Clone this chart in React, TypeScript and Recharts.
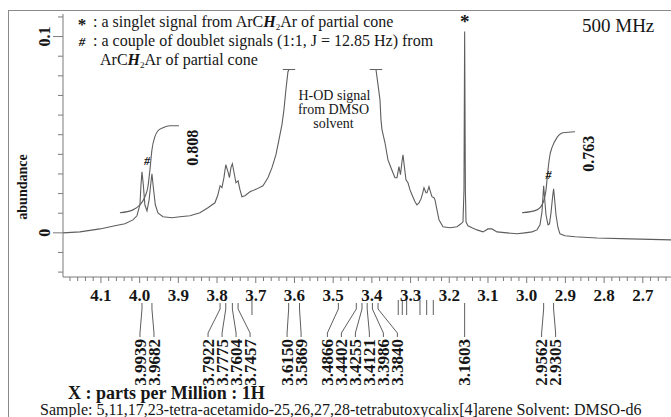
import { LineChart, Line, XAxis, YAxis, ReferenceLine, ReferenceDot } from "recharts";

const FONT = '"Liberation Serif", "Times New Roman", serif';
const INK = "#161616";
const TRACE = "#5e5e5e";
const AXIS = "#7a7a7a";

// 1H spectrum, left of the truncated H-OD signal
const leftPpm = [
  4.198, 4.1543, 4.1026, 4.0638, 4.038, 4.0173, 4.007, 3.9992, 3.9965, 3.9939, 3.9905, 3.9865, 3.981,
  3.9755, 3.9715, 3.9682, 3.9645, 3.9595, 3.9527, 3.9398, 3.9165, 3.8959, 3.87, 3.8442, 3.8235, 3.8054,
  3.7977, 3.7922, 3.7873, 3.7822, 3.7775, 3.7718, 3.768, 3.7641, 3.7604, 3.755, 3.7512, 3.7457, 3.7408,
  3.7357, 3.7279, 3.715, 3.6969, 3.6814, 3.6685, 3.6581, 3.6478, 3.6401, 3.6323, 3.6271, 3.622, 3.6168, 3.6142,
];
const leftAbundance = [
  0, 0.0005, 0.002, 0.0036, 0.0046, 0.0066, 0.0087, 0.0143, 0.0245, 0.0311, 0.0245, 0.0143, 0.0112,
  0.0168, 0.0245, 0.0301, 0.023, 0.0143, 0.0102, 0.0082, 0.0077, 0.0082, 0.0087, 0.0102, 0.0128, 0.0153,
  0.0194, 0.024, 0.023, 0.0281, 0.0347, 0.0312, 0.0281, 0.0332, 0.0352, 0.0296, 0.0255, 0.0265, 0.022,
  0.0184, 0.0189, 0.0209, 0.0224, 0.024, 0.0281, 0.0332, 0.0398, 0.0474, 0.0551, 0.0628, 0.073, 0.0821, 0.0832,
];

// 1H spectrum, right of the truncated H-OD signal
const rightPpm = [
  3.3894, 3.3842, 3.3791, 3.3765, 3.3739, 3.3661, 3.3584, 3.3506, 3.3455, 3.3403, 3.3351, 3.33, 3.3261,
  3.3222, 3.3196, 3.3157, 3.3119, 3.3067, 3.3015, 3.2964, 3.2886, 3.2835, 3.2783, 3.2731, 3.2692, 3.2654,
  3.2602, 3.2576, 3.2524, 3.2486, 3.2447, 3.2395, 3.2369, 3.2318, 3.2266, 3.2163, 3.1982, 3.1801, 3.1698,
  3.1646, 3.162, 3.1603, 3.1584, 3.1568, 3.1517, 3.1413, 3.1284, 3.1129, 3.1, 3.0897, 3.0767, 3.0509,
  3.0251, 3.0044, 2.9863, 2.9734, 2.9656, 2.9605, 2.9579, 2.9562, 2.954, 2.9501, 2.945, 2.9411, 2.9372,
  2.9333, 2.9305, 2.9282, 2.9243, 2.9191, 2.914, 2.901, 2.8752, 2.8183, 2.733, 2.6271, 2.6039,
];
const rightAbundance = [
  0.0832, 0.0755, 0.0679, 0.0577, 0.0526, 0.0459, 0.0372, 0.0332, 0.0306, 0.0281, 0.0281, 0.0337, 0.0296,
  0.0362, 0.0398, 0.0332, 0.027, 0.0255, 0.0219, 0.0194, 0.0158, 0.0143, 0.0153, 0.0173, 0.0199, 0.023,
  0.0204, 0.0204, 0.0235, 0.0209, 0.0184, 0.0179, 0.0168, 0.0117, 0.0066, 0.0031, 0.0026, 0.0031, 0.0046,
  0.0056, 0.0219, 0.1026, 0.0219, 0.0056, 0.0036, 0.0026, 0.0015, 0.0005, 0.002, 0.002, 0.0005, 0,
  -0.0005, 0, 0.0005, 0.0015, 0.0041, 0.0107, 0.0184, 0.024, 0.0184, 0.0092, 0.0041, 0.0046, 0.0102,
  0.0179, 0.0224, 0.0179, 0.0092, 0.0026, -0.0005, -0.0015, -0.002, -0.0026, -0.0031, -0.0036, -0.0036,
];

// integration curves
const integralAPpm = [4.0509, 4.0173, 3.9992, 3.9863, 3.9786, 3.9734, 3.9682, 3.9605, 3.9527, 3.9398, 3.9217, 3.8985];
const integralAValue = [0.0102, 0.0117, 0.0143, 0.0184, 0.0235, 0.0321, 0.0423, 0.049, 0.052, 0.0536, 0.0546, 0.0546];
const integralBPpm = [3.0121, 2.9734, 2.9579, 2.9501, 2.945, 2.9398, 2.9347, 2.9218, 2.9063, 2.8752];
const integralBValue = [0.0102, 0.0117, 0.0153, 0.0219, 0.0321, 0.0398, 0.0434, 0.0485, 0.051, 0.0515];
const integralLabels = ["0.808", "0.763"];

const peakLabels = [
  "3.9939", "3.9682", "3.7922", "3.7775", "3.7604", "3.7457", "3.6150", "3.5869", "3.4866",
  "3.4402", "3.4255", "3.4121", "3.3986", "3.3840", "3.1603", "2.9562", "2.9305",
];
const unlabeledPeaks = [3.7098, 3.3318, 3.3214, 3.3101, 3.2757, 3.2584, 3.2413];
const doublets = [[3.9939, 3.9682], [2.9562, 2.9305]];
const singlet = 3.1603;

const clipLevel = 0.0832;
const clipEdges = [3.6142, 3.3894];

const xTickLabels = ["4.1", "4.0", "3.9", "3.8", "3.7", "3.6", "3.5", "3.4", "3.3", "3.2", "3.1", "3.0", "2.9", "2.8", "2.7"];
const yTickLabels = ["0", "0.1"];

const X_DOMAIN: [number, number] = [2.6039, 4.198];
const Y_DOMAIN: [number, number] = [-0.0225, 0.1115];
const PLOT_H = 263;
const PER_PX = (Y_DOMAIN[1] - Y_DOMAIN[0]) / PLOT_H;
const belowAxis = (px: number) => Y_DOMAIN[0] - px * PER_PX;

const pair = (xs: number[], ys: number[]) => xs.map((ppm, i) => ({ ppm, v: ys[i] }));
const leftData = pair(leftPpm, leftAbundance);
const rightData = pair(rightPpm, rightAbundance);
const integralA = pair(integralAPpm, integralAValue);
const integralB = pair(integralBPpm, integralBValue);

const xTicks: number[] = [];
for (let i = 418; i >= 262; i -= 2) xTicks.push(i / 100);
const yTicks: number[] = [];
for (let i = -2; i <= 11; i++) yTicks.push(i / 100);

// spread crowded peak labels into evenly spaced groups (in ppm)
function spreadLabels(values: number[], gap: number) {
  let groups = values.map((v) => ({ items: [v] }));
  const place = (g: { items: number[] }) => {
    const c = g.items.reduce((a, b) => a + b, 0) / g.items.length;
    return g.items.map((_, i) => c + ((g.items.length - 1) / 2 - i) * gap);
  };
  let merged = true;
  while (merged) {
    merged = false;
    for (let i = 0; i < groups.length - 1; i++) {
      const a = place(groups[i]);
      const b = place(groups[i + 1]);
      if (a[a.length - 1] - b[0] < gap) {
        groups[i] = { items: [...groups[i].items, ...groups[i + 1].items] };
        groups.splice(i + 1, 1);
        merged = true;
        break;
      }
    }
  }
  return groups.flatMap(place);
}
const peakValues = peakLabels.map(Number);
const labelPpm = spreadLabels(peakValues, 14 / 387);

function XTick(props: any) {
  const { x, y, payload } = props;
  const label = xTickLabels.find((l) => Math.abs(Number(l) - payload.value) < 1e-6);
  return (
    <g>
      <line x1={x} y1={y} x2={x} y2={y + (label ? 6 : 4)} stroke={AXIS} />
      {label && (
        <text x={x} y={y + 24} textAnchor="middle" fontFamily={FONT} fontWeight="bold" fontSize={17} fill={INK}>
          {label}
        </text>
      )}
    </g>
  );
}

function YTick(props: any) {
  const { x, y, payload } = props;
  const label = yTickLabels.find((l) => Math.abs(Number(l) - payload.value) < 1e-6);
  const lx = x - 19;
  return (
    <g>
      <line x1={x - (label ? 10 : 5)} y1={y} x2={x} y2={y} stroke={AXIS} />
      {label && (
        <text x={lx} y={y} transform={`rotate(-90 ${lx} ${y})`} textAnchor="middle" dy="0.35em"
          fontFamily={FONT} fontWeight="bold" fontSize={16} fill={INK}>
          {label}
        </text>
      )}
    </g>
  );
}

const leader = (label: string) => (p: any) => {
  const { x1, y1, x2, y2 } = p;
  return (
    <g>
      <polyline points={`${x1},${y1} ${x1},${y1 + 6} ${x2},${y2 - 4} ${x2},${y2}`} fill="none" stroke={TRACE} strokeWidth={1} />
      <text x={x2} y={y2 + 2} transform={`rotate(-90 ${x2} ${y2 + 2})`} textAnchor="end" dy="0.33em"
        fontFamily={FONT} fontWeight="bold" fontSize={17} fill={INK}>
        {label}
      </text>
    </g>
  );
};

const textDot = (render: (cx: number, cy: number) => any) => (p: any) => render(p.cx, p.cy);

export default function App() {
  const integrals = [integralA, integralB];
  return (
    <div style={{ position: "absolute", left: 0, top: 0, width: 671, height: 417, overflow: "hidden", background: "#fff" }}>
      <div style={{ position: "absolute", left: 8, top: 10, width: 720, height: 430, border: "1px solid #8a8a8a" }} />
      <LineChart width={690} height={417} margin={{ top: 14, right: 10, bottom: 110, left: 8 }} style={{ position: "absolute", left: 0, top: 0 }}>
        <XAxis
          type="number"
          dataKey="ppm"
          domain={X_DOMAIN}
          reversed
          allowDataOverflow
          ticks={xTicks}
          interval={0}
          tickSize={0}
          tickMargin={0}
          tickLine={false}
          tick={XTick}
          height={30}
          stroke={AXIS}
        />
        <YAxis
          type="number"
          domain={Y_DOMAIN}
          allowDataOverflow
          ticks={yTicks}
          interval={0}
          tickSize={0}
          tickMargin={0}
          tickLine={false}
          tick={YTick}
          width={55}
          stroke={AXIS}
        />
        <Line data={leftData} dataKey="v" type="linear" stroke={TRACE} strokeWidth={1.1} dot={false} isAnimationActive={false} />
        <Line data={rightData} dataKey="v" type="linear" stroke={TRACE} strokeWidth={1.1} dot={false} isAnimationActive={false} />
        <Line data={integralA} dataKey="v" type="monotone" stroke={TRACE} strokeWidth={1.1} dot={false} isAnimationActive={false} />
        <Line data={integralB} dataKey="v" type="monotone" stroke={TRACE} strokeWidth={1.1} dot={false} isAnimationActive={false} />

        {clipEdges.map((c) => (
          <ReferenceLine key={`cap${c}`} segment={[{ x: c + 0.016, y: clipLevel }, { x: c - 0.016, y: clipLevel }]} stroke={TRACE} ifOverflow="visible" />
        ))}

        {unlabeledPeaks.map((p) => (
          <ReferenceLine key={`u${p}`} segment={[{ x: p, y: belowAxis(23) }, { x: p, y: belowAxis(38) }]} stroke={TRACE} ifOverflow="visible" />
        ))}

        {peakLabels.map((label, i) => (
          <ReferenceLine
            key={`pl${label}`}
            segment={[{ x: peakValues[i], y: belowAxis(26) }, { x: labelPpm[i], y: belowAxis(60) }]}
            ifOverflow="visible"
            shape={leader(label)}
          />
        ))}

        <ReferenceDot x={singlet} y={rightAbundance[rightPpm.indexOf(singlet)]} r={0} ifOverflow="visible"
          shape={textDot((cx, cy) => (
            <text x={cx} y={cy - 3} textAnchor="middle" fontFamily={FONT} fontWeight="bold" fontSize={19} fill={INK}>*</text>
          ))}
        />

        {doublets.map(([a, b], i) => {
          const src = i === 0 ? leftData : rightData;
          const top = Math.max(...src.filter((d) => d.ppm === a || d.ppm === b).map((d) => d.v));
          return (
            <ReferenceDot key={`d${i}`} x={(a + b) / 2} y={top} r={0} ifOverflow="visible"
              shape={textDot((cx, cy) => (
                <text x={cx} y={cy - 7} textAnchor="middle" fontFamily={FONT} fontWeight="bold" fontStyle="italic" fontSize={12} fill={INK}>#</text>
              ))}
            />
          );
        })}

        {integrals.map((curve, i) => {
          const end = curve[curve.length - 1];
          return (
            <ReferenceDot key={`int${i}`} x={end.ppm} y={end.v} r={0} ifOverflow="visible"
              shape={textDot((cx, cy) => (
                <text x={cx + 13} y={cy + 22} transform={`rotate(-90 ${cx + 13} ${cy + 22})`} textAnchor="middle" dy="0.35em"
                  fontFamily={FONT} fontWeight="bold" fontSize={16} fill={INK}>
                  {integralLabels[i]}
                </text>
              ))}
            />
          );
        })}

        <ReferenceDot x={(clipEdges[0] + clipEdges[1]) / 2} y={clipLevel} r={0} ifOverflow="visible"
          shape={textDot((cx, cy) => (
            <text textAnchor="middle" fontFamily={FONT} fontSize={14} fill={INK}>
              <tspan x={cx + 2} y={cy + 30}>H-OD signal</tspan>
              <tspan x={cx + 1} y={cy + 44}>from DMSO</tspan>
              <tspan x={cx + 1} y={cy + 58}>solvent</tspan>
            </text>
          ))}
        />
      </LineChart>

      <svg width={671} height={417} style={{ position: "absolute", left: 0, top: 0, pointerEvents: "none" }}>
        <g fontFamily={FONT} fill={INK}>
          <text x={22} y={187} transform="rotate(-90 22 187)" textAnchor="middle" dy="0.35em" fontSize={14} fontWeight="bold">
            abundance
          </text>
          <text x={82} y={30} textAnchor="middle" fontSize={17} fontWeight="bold">*</text>
          <text x={93} y={27} fontSize={16}>
            : a singlet signal from ArC<tspan fontWeight="bold" fontStyle="italic">H</tspan>
            <tspan fontSize={9} dy={3}>2</tspan>
            <tspan dy={-3}>Ar of partial cone</tspan>
          </text>
          <text x={82} y={46} textAnchor="middle" fontSize={13} fontWeight="bold" fontStyle="italic">#</text>
          <text x={93} y={46} fontSize={16}>: a couple of doublet signals (1:1, J = 12.85 Hz) from</text>
          <text x={100} y={65} fontSize={16}>
            ArC<tspan fontWeight="bold" fontStyle="italic">H</tspan>
            <tspan fontSize={9} dy={3}>2</tspan>
            <tspan dy={-3}>Ar of partial cone</tspan>
          </text>
          <text x={582} y={32} fontSize={19}>500 MHz</text>
          <text x={68} y={399} fontSize={18} fontWeight="bold">X : parts per Million : 1H</text>
          <text x={40} y={415} fontSize={16}>
            Sample: 5,11,17,23-tetra-acetamido-25,26,27,28-tetrabutoxycalix[4]arene  Solvent: DMSO-d6
          </text>
        </g>
      </svg>
    </div>
  );
}
